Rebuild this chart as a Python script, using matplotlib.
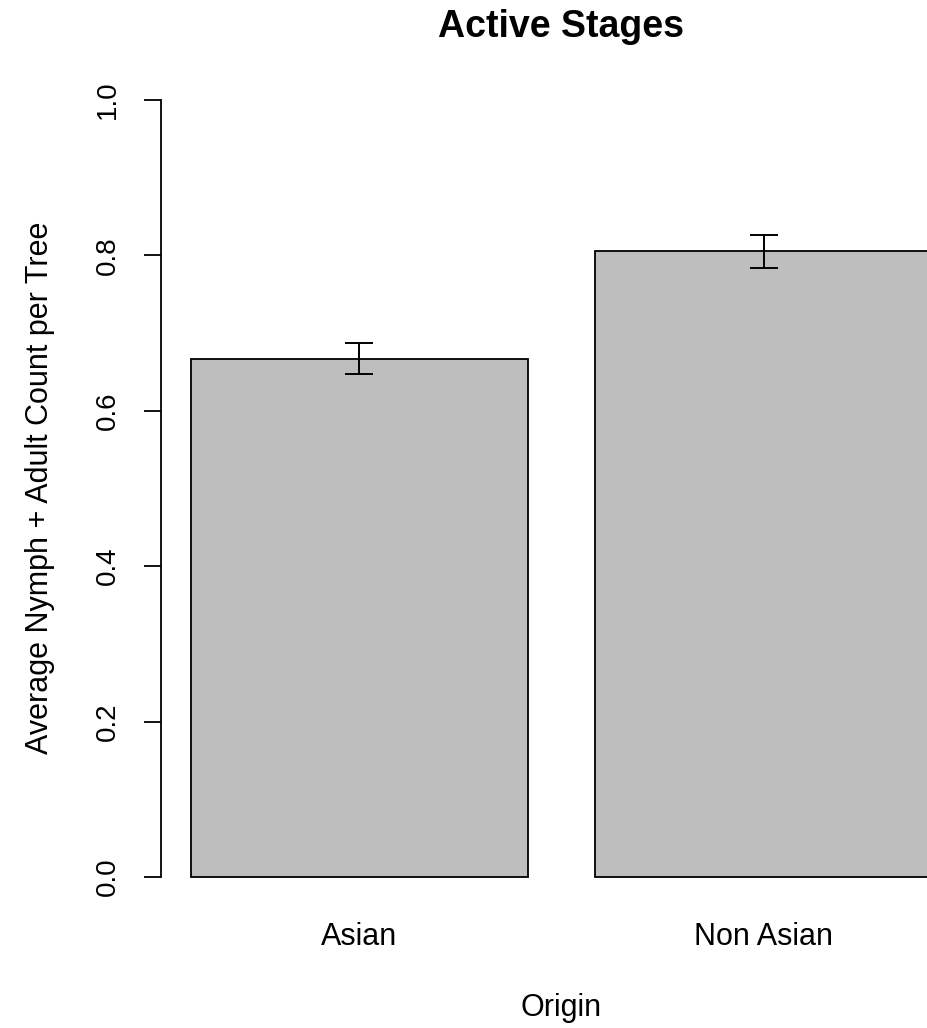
import numpy as np
import matplotlib.pyplot as plt

plt.rcParams['font.family'] = ['Liberation Sans', 'DejaVu Sans']

origins = ['Asian', 'Non Asian']
means = [0.667, 0.806]
upper = [0.687, 0.826]
lower = [0.647, 0.784]

# R barplot layout: width 1, space 0.2
x = np.array([0.7, 1.9])
err = [np.array(means) - np.array(lower), np.array(upper) - np.array(means)]

fig = plt.figure(figsize=(9.28, 10.28), dpi=100)
ax = fig.add_axes([161 / 928, 120 / 1028, (962 - 161) / 928, 839 / 1028])

ax.bar(x, means, width=1.0, color='#bebebe', edgecolor='black', linewidth=1.3)
ax.errorbar(x, means, yerr=err, fmt='none', ecolor='black', elinewidth=1.4,
            capsize=10, capthick=1.4)

ax.set_xlim(0.112, 2.488)
ax.set_ylim(-0.04, 1.04)

for s in ['top', 'right', 'bottom']:
    ax.spines[s].set_visible(False)
ax.spines['left'].set_bounds(0, 1)
ax.spines['left'].set_linewidth(1.3)

ax.set_yticks([0.0, 0.2, 0.4, 0.6, 0.8, 1.0])
ax.set_yticklabels(['0.0', '0.2', '0.4', '0.6', '0.8', '1.0'], rotation=90,
                   va='center', fontsize=20)
ax.tick_params(axis='y', length=12, width=1.3, pad=17, colors='black')

ax.set_xticks(x)
ax.set_xticklabels(origins, fontsize=22)
ax.tick_params(axis='x', length=0, pad=10)

fig.text(561 / 928, 1 - 27 / 1028, 'Active Stages', ha='center', va='center',
         fontsize=27, fontweight='bold')
fig.text(561 / 928, 1 - 1008 / 1028, 'Origin', ha='center', va='center',
         fontsize=22)
fig.text(40 / 928, 1 - 488 / 1028, 'Average Nymph + Adult Count per Tree',
         ha='center', va='center', rotation=90, fontsize=22)

fig.savefig('out.png', dpi=100)
